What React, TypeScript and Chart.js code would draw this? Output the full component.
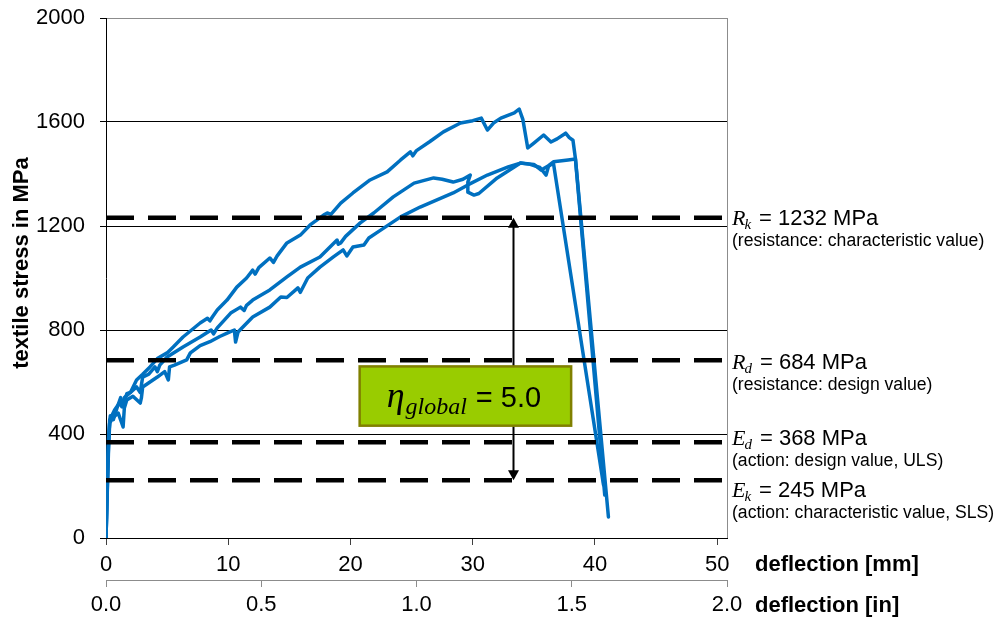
import React, { useEffect, useRef } from 'react';
import { Chart, registerables } from 'chart.js';

Chart.register(...registerables);

// ---------- data ----------
const xTicksMm = [0, 10, 20, 30, 40, 50];
const xTicksIn = [0, 0.5, 1.0, 1.5, 2.0];
const yTicks = [0, 400, 800, 1200, 1600, 2000];
const axisMaxMm = 50.8; // = 2.0 in
const axisMaxIn = 2.0;
const axisMaxStress = 2000;

// specimen 1 (upper curve)
const spec1Defl = [0, 0.1, 0.2, 0.35, 0.6, 0.9, 1.2, 1.4, 1.7, 2.0, 2.5, 3.0, 3.6, 4.2, 5.0, 5.5, 6.3, 7.0, 7.7, 8.3, 8.5, 8.7, 9.1, 9.9, 10.7, 11.5, 12.0, 12.2, 12.5, 13.4, 13.7, 14.0, 14.8, 15.9, 16.7, 17.8, 18.1, 18.4, 19.2, 20.2, 21.6, 23.0, 24.1, 24.9, 25.1, 25.4, 26.5, 27.6, 29.0, 30.0, 30.7, 31.2, 31.7, 32.3, 33.4, 33.8, 34.1, 34.5, 35.0, 35.8, 36.4, 36.9, 37.6, 37.9, 38.2, 38.4, 41.1];
const spec1Stress = [0, 200, 380, 470, 455, 500, 540, 505, 555, 560, 608, 630, 658, 690, 712, 735, 773, 800, 827, 845, 835, 850, 877, 915, 965, 1000, 1030, 1015, 1040, 1077, 1060, 1085, 1135, 1165, 1204, 1242, 1250, 1245, 1288, 1327, 1377, 1408, 1454, 1485, 1470, 1490, 1525, 1562, 1596, 1605, 1615, 1569, 1596, 1615, 1635, 1650, 1610, 1500, 1519, 1550, 1523, 1535, 1557, 1540, 1530, 1460, 81];

// specimen 2 (middle curve)
const spec2Defl = [0, 0.1, 0.2, 0.3, 0.7, 1.1, 1.3, 1.5, 2.0, 2.5, 2.8, 3.0, 3.5, 4.0, 4.2, 4.4, 5.0, 6.3, 7.7, 8.6, 8.8, 9.1, 10.2, 11.0, 11.3, 11.5, 12.0, 13.4, 14.8, 15.9, 17.5, 18.9, 19.0, 19.2, 19.6, 20.8, 21.9, 23.5, 25.2, 26.8, 27.5, 28.4, 29.2, 29.8, 29.6, 29.6, 30.1, 30.5, 32.0, 33.4, 33.9, 34.7, 35.5, 36.0, 36.2, 36.6, 40.7];
const spec2Stress = [0, 180, 350, 454, 492, 519, 505, 540, 560, 581, 560, 619, 630, 658, 640, 665, 696, 735, 773, 800, 785, 808, 865, 888, 875, 895, 915, 954, 1004, 1042, 1081, 1146, 1130, 1135, 1160, 1212, 1250, 1312, 1365, 1385, 1380, 1369, 1380, 1396, 1369, 1330, 1319, 1325, 1385, 1427, 1442, 1437, 1425, 1396, 1430, 1442, 204];

// specimen 3 (lower curve)
const spec3Defl = [0, 0.1, 0.2, 0.3, 0.6, 1.0, 1.4, 1.5, 1.7, 2.2, 2.8, 2.9, 3.0, 3.6, 4.2, 4.8, 5.1, 5.2, 5.6, 6.6, 6.9, 7.7, 8.5, 9.3, 10.0, 10.5, 10.6, 10.8, 12.0, 13.4, 14.3, 14.8, 15.7, 15.9, 16.5, 17.5, 18.6, 19.4, 19.7, 20.2, 21.1, 21.5, 22.5, 24.1, 25.7, 28.4, 29.6, 31.2, 32.9, 33.9, 35.0, 35.6, 36.2, 36.6, 37.8, 38.4, 40.8];
const spec3Stress = [0, 170, 330, 442, 465, 480, 427, 500, 531, 545, 519, 540, 581, 600, 619, 640, 608, 658, 665, 685, 712, 740, 755, 775, 790, 800, 754, 792, 850, 888, 927, 925, 962, 945, 1000, 1042, 1081, 1108, 1085, 1119, 1127, 1154, 1185, 1235, 1273, 1327, 1358, 1396, 1427, 1442, 1437, 1415, 1432, 1447, 1454, 1458, 165];

// limit levels (dashed lines, as drawn) and their labels
const limitLevels = [1232, 684, 368, 222];
const limitSymbols = ['R', 'R', 'E', 'E'];
const limitSubscripts = ['k', 'd', 'd', 'k'];
const limitValueTexts = ['= 1232 MPa', '= 684 MPa', '= 368 MPa', '= 245 MPa'];
const limitDescriptions = [
  '(resistance: characteristic value)',
  '(resistance: design value)',
  '(action: design value, ULS)',
  '(action: characteristic value, SLS)',
];

const etaSymbol = 'η';
const etaSubscript = 'global';
const etaValueText = '= 5.0';
const xTitleMm = 'deflection [mm]';
const xTitleIn = 'deflection [in]';
const yTitle = 'textile stress in MPa';

// ---------- styling ----------
const SANS = "'Liberation Sans', Arial, sans-serif";
const SERIF = "'Liberation Serif', 'Times New Roman', serif";
const BLUE = '#0070C0';

const annotationPlugin = {
  id: 'annotations',
  beforeDatasetsDraw(chart: any) {
    const { ctx, chartArea: ca } = chart;
    ctx.save();
    ctx.strokeStyle = '#8c8c8c';
    ctx.lineWidth = 1;
    ctx.beginPath();
    ctx.moveTo(Math.round(ca.right) + 0.5, ca.top);
    ctx.lineTo(Math.round(ca.right) + 0.5, ca.bottom);
    ctx.stroke();
    ctx.restore();
  },
  afterDatasetsDraw(chart: any) {
    const { ctx, chartArea: ca } = chart;
    const xs = chart.scales.x;
    const ys = chart.scales.y;
    const x2 = chart.scales.x2;
    ctx.save();

    // arrow between R_k and E_k
    const ax = Math.round(xs.getPixelForValue(33.3)) + 0.5;
    const aTop = ys.getPixelForValue(limitLevels[0]);
    const aBot = ys.getPixelForValue(limitLevels[3]);
    ctx.strokeStyle = '#000';
    ctx.fillStyle = '#000';
    ctx.lineWidth = 2;
    ctx.beginPath();
    ctx.moveTo(ax, aTop + 8);
    ctx.lineTo(ax, aBot - 8);
    ctx.stroke();
    const head = (tipY: number, dir: number) => {
      ctx.beginPath();
      ctx.moveTo(ax, tipY);
      ctx.lineTo(ax - 5.5, tipY + dir * 10);
      ctx.lineTo(ax + 5.5, tipY + dir * 10);
      ctx.closePath();
      ctx.fill();
    };
    head(aTop, 1);
    head(aBot, -1);

    // eta box
    const bx0 = xs.getPixelForValue(20.75);
    const bx1 = xs.getPixelForValue(38.05);
    const by0 = ys.getPixelForValue(660);
    const by1 = ys.getPixelForValue(432);
    ctx.fillStyle = '#99CC00';
    ctx.fillRect(bx0, by0, bx1 - bx0, by1 - by0);
    ctx.strokeStyle = '#808000';
    ctx.lineWidth = 2.5;
    ctx.strokeRect(bx0, by0, bx1 - bx0, by1 - by0);

    ctx.fillStyle = '#000';
    ctx.textAlign = 'left';
    ctx.textBaseline = 'alphabetic';
    const eBase = by0 + 41;
    let ex = bx0 + 27;
    ctx.font = `italic 36px ${SERIF}`;
    ctx.fillText(etaSymbol, ex, eBase);
    ex += ctx.measureText(etaSymbol).width + 1;
    ctx.font = `italic 24px ${SERIF}`;
    ctx.fillText(etaSubscript, ex, eBase + 7);
    ex += ctx.measureText(etaSubscript).width + 9;
    ctx.font = `29px ${SANS}`;
    ctx.fillText(etaValueText, ex, eBase);

    // right-hand labels
    const labelBaselineOffsets = [7, 9, 3, 17];
    const lx = ca.right + 5;
    limitLevels.forEach((lv, i) => {
      const b1 = ys.getPixelForValue(lv) + labelBaselineOffsets[i];
      ctx.font = `italic 22px ${SERIF}`;
      ctx.fillText(limitSymbols[i], lx, b1);
      let w = ctx.measureText(limitSymbols[i]).width;
      ctx.font = `italic 15px ${SERIF}`;
      ctx.fillText(limitSubscripts[i], lx + w - 1, b1 + 4);
      w += ctx.measureText(limitSubscripts[i]).width + 7;
      ctx.font = `22px ${SANS}`;
      ctx.fillText(limitValueTexts[i], lx + w, b1);
      ctx.font = `17.6px ${SANS}`;
      ctx.fillText(limitDescriptions[i], lx, b1 + 21);
    });

    // axis titles
    ctx.font = `bold 22px ${SANS}`;
    ctx.textBaseline = 'middle';
    ctx.fillText(xTitleMm, ca.right + 28, xs.top + 27);
    ctx.fillText(xTitleIn, ca.right + 28, x2.top + 26);

    ctx.translate(22, 263);
    ctx.rotate(-Math.PI / 2);
    ctx.textAlign = 'center';
    ctx.fillText(yTitle, 0, 0);

    ctx.restore();
  },
};

export default function App() {
  const ref = useRef<HTMLCanvasElement>(null);

  useEffect(() => {
    const canvas = ref.current;
    if (!canvas) return;
    const pts = (xs: number[], ys: number[]) => xs.map((x, i) => ({ x, y: ys[i] }));

    const limitDatasets = limitLevels.map((lv) => ({
      type: 'line' as const,
      data: [{ x: 0, y: lv }, { x: axisMaxMm, y: lv }],
      borderColor: '#000',
      borderWidth: 4.5,
      borderDash: [28, 14],
      borderCapStyle: 'butt' as const,
      pointRadius: 0,
      order: 0,
    }));
    const curveDatasets = [
      pts(spec1Defl, spec1Stress),
      pts(spec2Defl, spec2Stress),
      pts(spec3Defl, spec3Stress),
    ].map((d) => ({
      type: 'line' as const,
      data: d,
      borderColor: BLUE,
      borderWidth: 3.5,
      borderJoinStyle: 'round' as const,
      borderCapStyle: 'round' as const,
      pointRadius: 0,
      tension: 0,
      order: 1,
    }));

    const noPad = (s: any) => {
      s.paddingTop = 0;
      s.paddingBottom = 0;
      s.paddingLeft = 0;
      s.paddingRight = 0;
    };

    const chart = new Chart(canvas, {
      type: 'line',
      data: { datasets: [...limitDatasets, ...curveDatasets] as any },
      options: {
        responsive: false,
        animation: false,
        devicePixelRatio: 1,
        layout: { padding: { top: 18, right: 268, bottom: 0, left: 0 } },
        plugins: { legend: { display: false }, tooltip: { enabled: false }, title: { display: false } },
        elements: { point: { radius: 0 } },
        scales: {
          x: {
            type: 'linear',
            position: 'bottom',
            weight: 0,
            min: 0,
            max: axisMaxMm,
            afterBuildTicks: (s: any) => { s.ticks = xTicksMm.map((v) => ({ value: v })); },
            afterFit: (s: any) => { s.height = 42; noPad(s); },
            grid: { drawOnChartArea: false, drawTicks: true, tickLength: 7, color: '#404040' },
            border: { display: true, color: '#000', width: 1 },
            ticks: {
              font: { family: SANS, size: 22 }, color: '#000', padding: 7, maxRotation: 0, autoSkip: false,
              callback: (v: any) => String(v),
            },
          },
          x2: {
            type: 'linear',
            position: 'bottom',
            weight: 1,
            min: 0,
            max: axisMaxIn,
            afterBuildTicks: (s: any) => { s.ticks = xTicksIn.map((v) => ({ value: v })); },
            afterFit: (s: any) => { s.height = 37; noPad(s); },
            grid: { drawOnChartArea: false, drawTicks: true, tickLength: 7, color: '#8c8c8c' },
            border: { display: true, color: '#8c8c8c', width: 1 },
            ticks: {
              font: { family: SANS, size: 22 }, color: '#000', padding: 5, maxRotation: 0, autoSkip: false,
              callback: (v: any) => Number(v).toFixed(1),
            },
          },
          y: {
            type: 'linear',
            position: 'left',
            min: 0,
            max: axisMaxStress,
            afterBuildTicks: (s: any) => { s.ticks = yTicks.map((v) => ({ value: v })); },
            afterFit: (s: any) => { s.width = 106; noPad(s); },
            grid: {
              drawOnChartArea: true,
              drawTicks: true,
              tickLength: 6,
              color: (c: any) => (c.tick && c.tick.value === axisMaxStress ? '#8c8c8c' : '#000'),
              tickColor: '#000',
              lineWidth: 1,
            },
            border: { display: true, color: '#000', width: 1 },
            ticks: {
              font: { family: SANS, size: 22 }, color: '#000', padding: 15, autoSkip: false,
              callback: (v: any) => String(v),
            },
          },
        },
      },
      plugins: [annotationPlugin],
    });
    return () => chart.destroy();
  }, []);

  return (
    <div style={{ position: 'absolute', left: 0, top: 0, width: 995, height: 617, background: '#fff' }}>
      <canvas ref={ref} width={995} height={617} style={{ display: 'block', width: 995, height: 617 }} />
    </div>
  );
}
